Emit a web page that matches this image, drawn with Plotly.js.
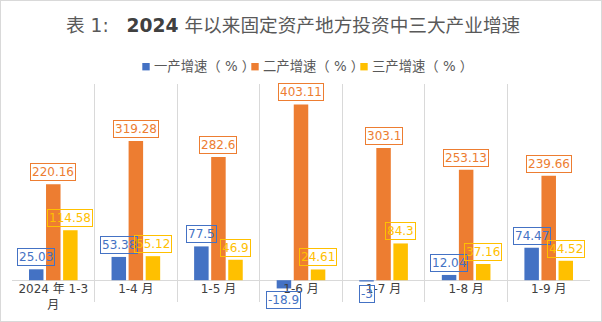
<!DOCTYPE html>
<html><head><meta charset="utf-8">
<script src="https://cdn.plot.ly/plotly-3.0.1.min.js"></script>
<style>html,body{margin:0;padding:0;background:#fff}#c{width:600px;height:320px;border:1px solid #d9d9d9}</style>
</head><body><div id="c"></div>
<script>
const categories = ["2024 年 1-3 月", "1-4 月", "1-5 月", "1-6 月", "1-7 月", "1-8 月", "1-9 月"];
const tickLabels = ["2024 年 1-3<br>月", "1-4 月", "1-5 月", "1-6 月", "1-7 月", "1-8 月", "1-9 月"];
const seriesNames = ["一产增速（ % ）", "二产增速（ % ）", "三产增速（ % ）"];
const primary = [25.03, 53.38, 77.5, -18.9, -3, 12.04, 74.47];
const secondary = [220.16, 319.28, 282.6, 403.11, 303.1, 253.13, 239.66];
const tertiary = [114.58, 55.12, 46.9, 24.61, 84.3, 37.16, 44.52];

const colors = ["#4472C4", "#ED7D31", "#FFC000"];
const series = [primary, secondary, tertiary];
const bargap = 0.38;
const slot = (1 - bargap) / 3;
const font = "'DejaVu Sans', 'Noto Sans CJK SC', sans-serif";

// page-pixel -> paper helpers (plot area: x 12..590, y 84..302)
const px = p => (p - 12) / 578;
const py = p => (302 - p) / 218;

const traces = series.map((vals, s) => ({
  type: 'bar', x: categories, y: vals, name: seriesNames[s],
  marker: {color: colors[s]}, hoverinfo: 'skip', showlegend: false
}));

const annotations = [];
series.forEach((vals, s) => {
  vals.forEach((v, i) => {
    annotations.push({
      x: i + (s - 1) * slot, y: v, xref: 'x', yref: 'y',
      text: String(v), showarrow: false,
      yanchor: v >= 0 ? 'bottom' : 'top', yshift: v >= 0 ? 3 : -3,
      font: {family: font, size: 12, color: colors[s]},
      bordercolor: colors[s], borderwidth: 1, borderpad: 1
    });
  });
});

// custom legend
const shapes = [];
const legStart = 142.3, legPitch = 109, legY = 66.7, sq = 7.4;
seriesNames.forEach((name, s) => {
  const x0 = legStart + s * legPitch;
  shapes.push({type: 'rect', xref: 'paper', yref: 'paper',
    x0: px(x0), x1: px(x0 + sq), y0: py(legY + sq / 2), y1: py(legY - sq / 2),
    fillcolor: colors[s], line: {width: 0}});
  annotations.push({xref: 'paper', yref: 'paper', x: px(x0 + sq + 2.5), y: py(legY),
    xanchor: 'left', yanchor: 'middle', showarrow: false, text: name,
    font: {family: font, size: 13.33, color: '#595959'}});
});

const layout = {
  width: 600, height: 320,
  margin: {l: 11, r: 11, t: 83, b: 19},
  paper_bgcolor: '#fff', plot_bgcolor: '#fff',
  title: {text: "表 1:\u00a0\u00a0\u00a0<span style='color:#404040'><b>2024</b></span> 年以来固定资产地方投资中三大产业增速",
    x: 65 / 600, xanchor: 'left', xref: 'container',
    y: 1 - 24 / 320, yanchor: 'middle', yref: 'container',
    font: {family: font, size: 18.67, color: '#595959'}},
  barmode: 'group', bargap: bargap, bargroupgap: 0.15,
  showlegend: false,
  xaxis: {type: 'category', tickvals: categories, ticktext: tickLabels,
    tickson: 'boundaries', showgrid: true, gridcolor: '#d9d9d9', gridwidth: 1,
    ticks: '', showline: false, zeroline: false,
    anchor: 'free', position: 50 / 500,
    tickfont: {family: font, size: 12, color: '#404040'}, fixedrange: true},
  yaxis: {range: [-50, 450], showticklabels: false, showgrid: false,
    zeroline: true, zerolinecolor: '#d9d9d9', zerolinewidth: 1, fixedrange: true},
  annotations: annotations,
  shapes: shapes
};

Plotly.newPlot('c', traces, layout, {displayModeBar: false, staticPlot: true});
</script></body></html>
